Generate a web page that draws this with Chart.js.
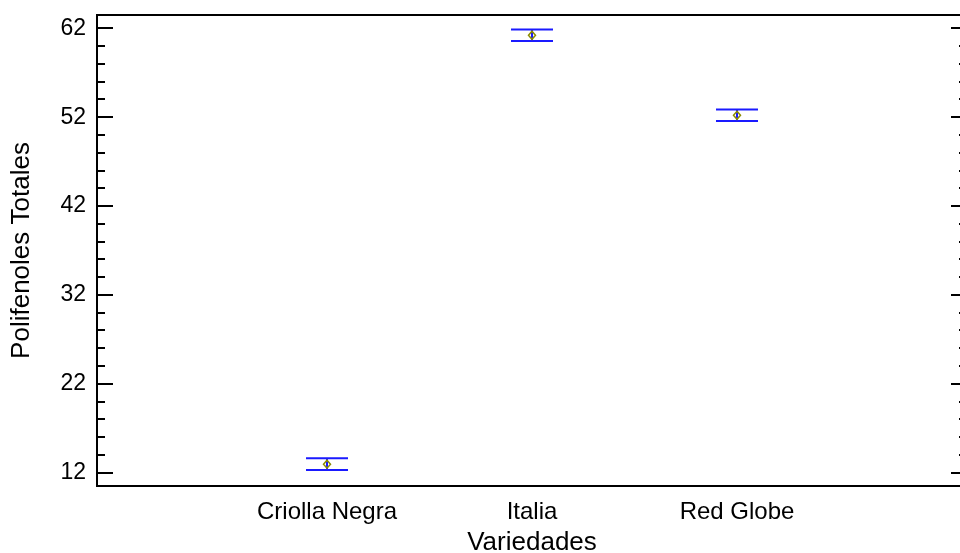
<!DOCTYPE html>
<html>
<head>
<meta charset="utf-8">
<script src="https://cdn.jsdelivr.net/npm/chart.js@4/dist/chart.umd.min.js"></script>
<style>
  html, body { margin: 0; padding: 0; background: #fff; overflow: hidden; }
  #wrap { position: relative; width: 970px; height: 553px; }
</style>
</head>
<body>
<div id="wrap"><canvas id="c"></canvas></div>
<script>
// Mean polyphenol content per grape variety with interval bounds
const varieties = ['Criolla Negra', 'Italia', 'Red Globe'];
const means = [12.96, 61.22, 52.21];
const lower = [12.31, 60.57, 51.56];
const upper = [13.61, 61.87, 52.86];
const yMajorTicks = [12, 22, 32, 42, 52, 62];
const yMinorStep = 2;

const FAMILY = '"Liberation Sans", Arial, sans-serif';
const TICK_FONT = { family: FAMILY, size: 23 };
const CAT_FONT = { family: FAMILY, size: 24 };
const TITLE_FONT = { family: FAMILY, size: 26 };

// Box frame with inward tick marks on left and right edges
const framePlugin = {
  id: 'frame',
  afterDraw(chart) {
    const { ctx, chartArea: a, scales: { y } } = chart;
    ctx.save();
    ctx.strokeStyle = '#000';
    ctx.lineWidth = 2;
    ctx.strokeRect(a.left, a.top, a.right - a.left, a.bottom - a.top);
    ctx.beginPath();
    for (let v = yMajorTicks[0]; v <= yMajorTicks[yMajorTicks.length - 1] + 1e-9; v += yMinorStep) {
      const major = yMajorTicks.some(m => Math.abs(m - v) < 1e-9);
      const len = major ? 16 : 8;
      const py = Math.round(y.getPixelForValue(v));
      ctx.moveTo(a.left, py); ctx.lineTo(a.left + len, py);
      ctx.moveTo(a.right, py); ctx.lineTo(a.right - len, py);
    }
    ctx.stroke();
    ctx.restore();
  }
};

// Interval bars (blue) with a hollow diamond at the mean
const intervalPlugin = {
  id: 'intervals',
  afterDatasetsDraw(chart) {
    const { ctx, scales: { x, y } } = chart;
    ctx.save();
    varieties.forEach((name, i) => {
      const px = x.getPixelForValue(i + 1);
      const pLo = y.getPixelForValue(lower[i]);
      const pHi = y.getPixelForValue(upper[i]);
      const pM = y.getPixelForValue(means[i]);
      const hw = 21;
      ctx.strokeStyle = '#1a1aff';
      ctx.lineWidth = 2;
      ctx.beginPath();
      ctx.moveTo(px - hw, pHi); ctx.lineTo(px + hw, pHi);
      ctx.moveTo(px - hw, pLo); ctx.lineTo(px + hw, pLo);
      ctx.moveTo(px, pHi); ctx.lineTo(px, pLo);
      ctx.stroke();
      ctx.strokeStyle = '#8c8c00';
      ctx.lineWidth = 1.5;
      ctx.beginPath();
      ctx.moveTo(px, pM - 4);
      ctx.lineTo(px + 3.5, pM);
      ctx.lineTo(px, pM + 4);
      ctx.lineTo(px - 3.5, pM);
      ctx.closePath();
      ctx.stroke();
    });
    ctx.restore();
  }
};

new Chart(document.getElementById('c'), {
  type: 'scatter',
  data: {
    datasets: [{
      data: varieties.map((v, i) => ({ x: i + 1, y: means[i] })),
      pointRadius: 0,
      pointHoverRadius: 0
    }]
  },
  options: {
    responsive: true,
    maintainAspectRatio: false,
    animation: false,
    events: [],
    layout: { padding: { left: 0, right: 3, top: 15, bottom: 0 } },
    plugins: { legend: { display: false }, tooltip: { enabled: false } },
    scales: {
      x: {
        type: 'linear',
        min: -0.122,
        max: 4.122,
        afterBuildTicks(s) { s.ticks = varieties.map((v, i) => ({ value: i + 1 })); },
        afterFit(s) { s.height = 67; s.paddingLeft = 0; s.paddingRight = 0; },
        grid: { display: false, drawTicks: false, tickLength: 0 },
        border: { display: false },
        ticks: {
          autoSkip: false,
          maxRotation: 0,
          padding: 12,
          color: '#000',
          font: CAT_FONT,
          callback: (v) => varieties[Math.round(v) - 1] || ''
        },
        title: {
          display: true,
          text: 'Variedades',
          color: '#000',
          font: TITLE_FONT,
          padding: { top: 0, bottom: -5 }
        }
      },
      y: {
        type: 'linear',
        min: 10.5,
        max: 63.5,
        afterBuildTicks(s) { s.ticks = yMajorTicks.map(v => ({ value: v })); },
        afterFit(s) { s.width = 97; s.paddingTop = 0; s.paddingBottom = 0; },
        grid: { display: false, drawTicks: false, tickLength: 0 },
        border: { display: false },
        ticks: {
          padding: 11,
          color: '#000',
          font: TICK_FONT
        },
        title: {
          display: true,
          text: 'Polifenoles Totales',
          color: '#000',
          font: TITLE_FONT,
          padding: { top: 6, bottom: 0 }
        }
      }
    }
  },
  plugins: [framePlugin, intervalPlugin]
});
</script>
</body>
</html>
